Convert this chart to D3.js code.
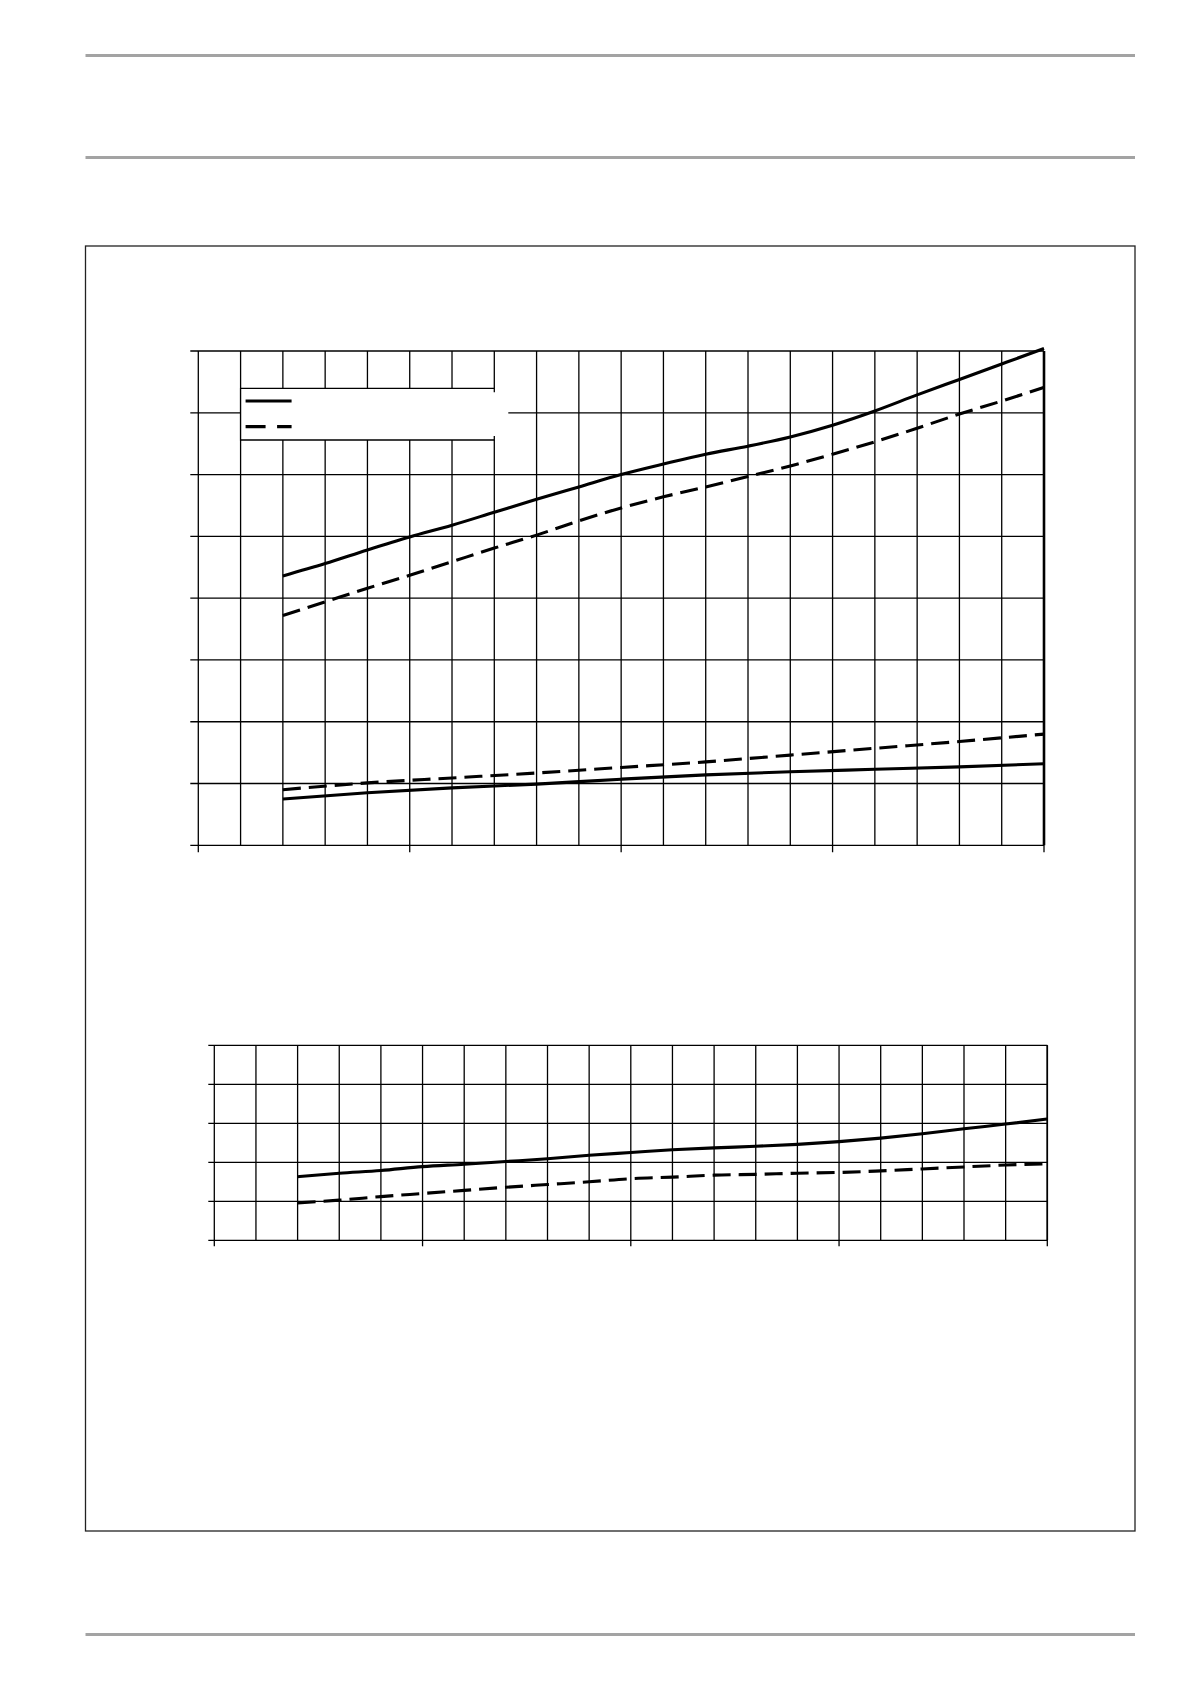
<!DOCTYPE html>
<html>
<head>
<meta charset="utf-8">
<script src="https://cdn.jsdelivr.net/npm/d3@7"></script>
<style>
  html, body { margin: 0; padding: 0; background: #fff; }
  svg { display: block; }
</style>
</head>
<body>
<script>
// ---------- data ----------
const colsAll = [2,3,4,5,6,7,8,9,10,11,12,13,14,15,16,17,18,19,20];
const colsEven = [2,4,6,8,10,12,14,16,18,20];

// top chart (y in grid rows 0..8)
const topUpperSolid  = [4.36,4.56,4.78,4.99,5.18,5.39,5.60,5.80,6.00,6.17,6.33,6.46,6.61,6.80,7.03,7.29,7.54,7.79,8.04];
const topUpperDashed = [3.72,3.94,4.16,4.37,4.59,4.81,5.02,5.25,5.46,5.64,5.80,5.97,6.14,6.33,6.53,6.75,6.98,7.19,7.41];
const topLowerDashed = [0.90,1.01,1.09,1.17,1.26,1.35,1.46,1.57,1.68,1.80];
const topLowerSolid  = [0.75,0.85,0.93,0.99,1.07,1.14,1.19,1.23,1.27,1.32];

// bottom chart (y in grid rows 0..5)
const botSolid  = [1.63,1.72,1.79,1.89,1.95,2.02,2.09,2.18,2.25,2.32,2.37,2.41,2.46,2.53,2.62,2.73,2.86,2.98,3.11];
const botDashed = [0.96,1.03,1.12,1.20,1.28,1.36,1.43,1.50,1.58,1.62,1.67,1.69,1.72,1.74,1.78,1.83,1.88,1.93,1.96];

const xMajorTicks = [0,5,10,15,20];

// ---------- page ----------
const W = 1191, H = 1684;
const svg = d3.select("body").append("svg").attr("width", W).attr("height", H);

// gray header/footer rules
[55.5, 157.5, 1634.5].forEach(yy => {
  svg.append("line").attr("x1", 85.5).attr("x2", 1135).attr("y1", yy).attr("y2", yy)
    .attr("stroke", "#a3a3a3").attr("stroke-width", 3);
});
// outer frame
svg.append("rect").attr("x", 85.5).attr("y", 246).attr("width", 1049.5).attr("height", 1285)
  .attr("fill", "none").attr("stroke", "#222").attr("stroke-width", 1.3);

function drawChart(cfg) {
  const x = d3.scaleLinear().domain([0, 20]).range([cfg.x0, cfg.x1]);
  const y = d3.scaleLinear().domain([0, cfg.rows]).range([cfg.y0, cfg.y1]);
  const g = svg.append("g");

  // horizontal grid + left ticks
  g.selectAll(".hg").data(y.ticks(cfg.rows)).join("line")
    .attr("x1", x(0) - cfg.tickL).attr("x2", x(20))
    .attr("y1", d => y(d)).attr("y2", d => y(d))
    .attr("stroke", "#000").attr("stroke-width", 1.3);
  // vertical grid + bottom ticks at majors
  g.selectAll(".vg").data(x.ticks(20)).join("line")
    .attr("x1", d => x(d)).attr("x2", d => x(d))
    .attr("y1", y(cfg.rows))
    .attr("y2", d => xMajorTicks.includes(d) ? y(0) + cfg.tickB : y(0))
    .attr("stroke", "#000").attr("stroke-width", 1.3);
  // right edge
  g.append("line").attr("x1", x(20)).attr("x2", x(20)).attr("y1", y(cfg.rows)).attr("y2", y(0))
    .attr("stroke", "#000").attr("stroke-width", cfg.rightW);

  if (cfg.legend) cfg.legend(g, x, y);

  const line = d3.line().x(d => x(d[0])).y(d => y(d[1])).curve(d3.curveMonotoneX);
  cfg.series.forEach(s => {
    g.append("path").datum(s.xs.map((c, i) => [c, s.vals[i]]))
      .attr("d", line).attr("fill", "none").attr("stroke", "#000")
      .attr("stroke-width", 3.1)
      .attr("stroke-dasharray", s.dash ? "18,8" : null);
  });
}

drawChart({
  x0: 198.3, x1: 1044, y0: 845.3, y1: 351, rows: 8, tickL: 8, tickB: 7, rightW: 2.6,
  series: [
    { xs: colsAll, vals: topUpperSolid, dash: false },
    { xs: colsAll, vals: topUpperDashed, dash: true },
    { xs: colsEven, vals: topLowerDashed, dash: true },
    { xs: colsEven, vals: topLowerSolid, dash: false }
  ],
  legend: (g, x, y) => {
    const lx0 = x(1), lx1 = x(7), top = 388.3, bot = 440;
    g.append("rect").attr("x", lx0).attr("y", top).attr("width", lx1 - lx0 + 14).attr("height", bot - top)
      .attr("fill", "#fff");
    g.append("path")
      .attr("d", `M${lx1},${top + 4}V${top}H${lx0}V${bot}H${lx1}V${bot - 4}`)
      .attr("fill", "none").attr("stroke", "#000").attr("stroke-width", 1.3);
    g.append("line").attr("x1", lx0 + 5).attr("x2", lx0 + 51).attr("y1", 401).attr("y2", 401)
      .attr("stroke", "#000").attr("stroke-width", 3.2);
    g.append("line").attr("x1", lx0 + 5).attr("x2", lx0 + 51).attr("y1", 426.7).attr("y2", 426.7)
      .attr("stroke", "#000").attr("stroke-width", 3.2).attr("stroke-dasharray", "20,11.5");
  }
});

drawChart({
  x0: 214.3, x1: 1047.3, y0: 1240.3, y1: 1045.3, rows: 5, tickL: 6, tickB: 6, rightW: 1.6,
  series: [
    { xs: colsAll, vals: botSolid, dash: false },
    { xs: colsAll, vals: botDashed, dash: true }
  ]
});
</script>
</body>
</html>
